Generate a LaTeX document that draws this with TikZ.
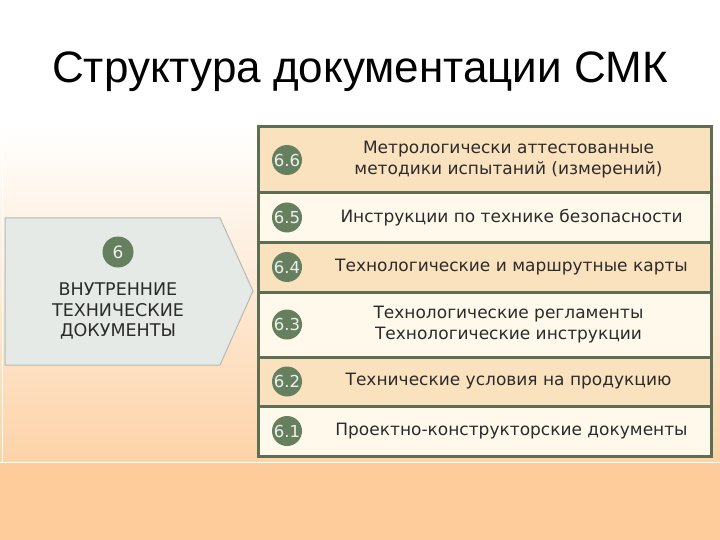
\documentclass[tikz,border=0pt]{standalone}
\usepackage{fontspec}
\setmainfont{Liberation Sans}
\newfontfamily\wide{DejaVu Sans}
\usetikzlibrary{positioning}
\definecolor{peach}{HTML}{FDCC9A}
\definecolor{peachlight}{HTML}{FDD3A8}
\definecolor{framegreen}{HTML}{5E6E52}
\definecolor{badgegreen}{HTML}{66805F}
\definecolor{rowtan}{HTML}{FAE2BF}
\definecolor{rowcream}{HTML}{FEF9EA}
\definecolor{boxgray}{HTML}{E5EAE6}
\definecolor{boxedge}{HTML}{B5BAB4}
\definecolor{textgray}{HTML}{2B2B2B}
\tikzset{
  row/.style={draw=framegreen, line width=3pt, minimum width=453pt, outer sep=0pt, inner sep=0pt},
  badge/.style={circle, fill=badgegreen, text=white!88!badgegreen, minimum size=30pt, inner sep=0pt,
    font=\wide\fontsize{16.5}{16.5}\selectfont},
  rowtext/.style={text=textgray, align=center, font=\wide\fontsize{17}{21}\selectfont},
}

\begin{document}
\begin{tikzpicture}[x=1pt,y=-1pt]
    \useasboundingbox (0,0) rectangle (720,540);
    % background
    \fill[white] (0,0) rectangle (720,125);
    \shade[top color=white, bottom color=peachlight] (0,125) rectangle (720,462);
    \fill[peach] (0,462) rectangle (720,540);
    \draw[white, line width=1.2pt] (0,462.5) -- (720,462.5);
    \draw[white, line width=1pt] (2.5,125) -- (2.5,462);

    \node[font=\fontsize{44}{48}\selectfont] (title) at (360,72) {Структура документации СМК};

    % left group box
    \draw[boxedge, fill=boxgray, line width=1pt] (5,218) -- (220,218) -- (253,291) -- (220,365) -- (5,365) -- cycle;
    \node[badge, minimum size=31pt, font=\wide\fontsize{17}{17}\selectfont] (b0) at (118,252) {6};
    \node[text=textgray, align=center, font=\wide\fontsize{17.5}{20.5}\selectfont] (grp) at (118,311)
        {ВНУТРЕННИЕ\\ТЕХНИЧЕСКИЕ\\ДОКУМЕНТЫ};

    % rows, top to bottom
    \node[row, fill=rowtan, minimum height=66pt, anchor=north west] (r6) at (258,127) {};
    \node[row, fill=rowcream, minimum height=49pt, below=0pt of r6] (r5) {};
    \node[row, fill=rowtan, minimum height=50pt, below=0pt of r5] (r4) {};
    \node[row, fill=rowcream, minimum height=65pt, below=0pt of r4] (r3) {};
    \node[row, fill=rowtan, minimum height=49pt, below=0pt of r3] (r2) {};
    \node[row, fill=rowcream, minimum height=50pt, below=0pt of r2] (r1) {};

    \foreach \r/\num in {r6/6.6, r5/6.5, r4/6.4, r3/6.3, r2/6.2, r1/6.1}
        \node[badge] (b\r) at ([xshift=29pt]\r.west) {\num};

    \node[rowtext] (t6) at ([xshift=24pt]r6.center) {Метрологически аттестованные\\методики испытаний (измерений)};
    \node[rowtext] (t5) at ([xshift=27pt]r5.center) {Инструкции по технике безопасности};
    \node[rowtext] (t4) at ([xshift=27pt]r4.center) {Технологические и маршрутные карты};
    \node[rowtext] (t3) at ([xshift=24pt]r3.center) {Технологические регламенты\\Технологические инструкции};
    \node[rowtext] (t2) at ([xshift=24pt]r2.center) {Технические условия на продукцию};
    \node[rowtext] (t1) at ([xshift=27pt]r1.center) {Проектно-конструкторские документы};
\end{tikzpicture}
\end{document}
